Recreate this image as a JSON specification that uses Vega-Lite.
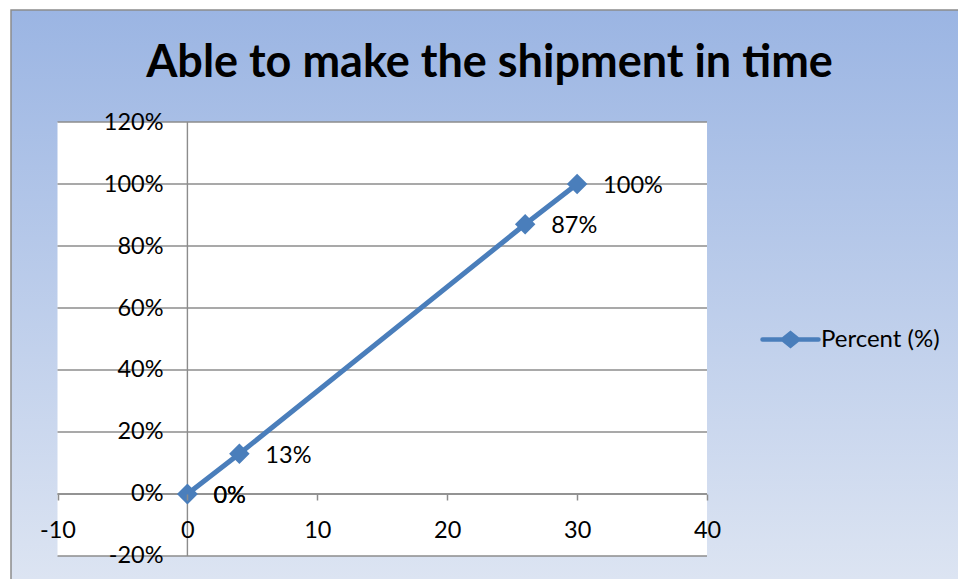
{
  "$schema": "https://vega.github.io/schema/vega-lite/v6.json",
  "width": 947,
  "height": 569,
  "autosize": {"type": "none"},
  "padding": {"left": 11, "top": 10, "right": 0, "bottom": 0},
  "background": "white",
  "title": {
    "text": "Able to make the shipment in time",
    "font": "Lato",
    "fontSize": 45,
    "fontWeight": "bold",
    "color": "black",
    "anchor": "middle",
    "frame": "group",
    "baseline": "alphabetic",
    "offset": -112,
    "dx": 5
  },
  "config": {
    "locale": {"number": {"decimal": ".", "thousands": ",", "grouping": [3], "currency": ["$", ""], "minus": "-"}},
    "font": "Lato",
    "view": {
      "stroke": "#8c8c8c",
      "strokeWidth": 1.5,
      "strokeDash": [947, 1516, 569, 10],
      "fill": {
        "gradient": "linear",
        "x1": 0, "y1": 0, "x2": 0, "y2": 1,
        "stops": [
          {"offset": 0, "color": "#9bb5e3"},
          {"offset": 1, "color": "#dce4f2"}
        ]
      }
    }
  },
  "datasets": {
    "plotArea": [{"x0": -10, "x1": 40, "y0": -0.2, "y1": 1.2}],
    "gridY": [{"v": -0.2}, {"v": 0}, {"v": 0.2}, {"v": 0.4}, {"v": 0.6}, {"v": 0.8}, {"v": 1.0}, {"v": 1.2}],
    "axisLines": [
      {"x0": 0, "x1": 0, "y0": -0.2, "y1": 1.2},
      {"x0": -10, "x1": 40, "y0": 0, "y1": 0}
    ],
    "shipment": [
      {"day": 0, "percent": 0, "series": "Percent (%)"},
      {"day": 0, "percent": 0, "series": "Percent (%)"},
      {"day": 4, "percent": 0.13, "series": "Percent (%)"},
      {"day": 26, "percent": 0.87, "series": "Percent (%)"},
      {"day": 30, "percent": 1.0, "series": "Percent (%)"}
    ]
  },
  "layer": [
    {
      "data": {"name": "plotArea"},
      "mark": {"type": "rect", "fill": "white"},
      "encoding": {
        "x": {
          "field": "x0", "type": "quantitative", "title": null,
          "scale": {"domain": [-13.58, 59.32], "nice": false, "zero": false},
          "axis": {
            "values": [-10, 0, 10, 20, 30, 40],
            "domain": false, "grid": false,
            "ticks": true, "tickSize": 6, "tickColor": "#8c8c8c", "tickWidth": 1.5,
            "labelFontSize": 23.5, "labelColor": "black", "labelFont": "Lato",
            "labelBaseline": "alphabetic", "labelPadding": 37,
            "labelFlush": false, "labelOverlap": false, "labelBound": false,
            "offset": -85, "zindex": 1
          }
        },
        "x2": {"field": "x1"},
        "y": {
          "field": "y0", "type": "quantitative", "title": null,
          "scale": {"domain": [-0.2742, 1.5613], "nice": false, "zero": false},
          "axis": {
            "values": [-0.2, 0, 0.2, 0.4, 0.6, 0.8, 1.0, 1.2],
            "format": ".0%",
            "domain": false, "grid": false, "ticks": false,
            "labelFontSize": 23.5, "labelColor": "black", "labelFont": "Lato",
            "labelBaseline": "middle", "labelPadding": 24,
            "labelFlush": false, "labelOverlap": false, "labelBound": false,
            "offset": -176, "zindex": 1
          }
        },
        "y2": {"field": "y1"}
      }
    },
    {
      "data": {"name": "gridY"},
      "mark": {"type": "rule", "color": "#8c8c8c", "strokeWidth": 1.4},
      "encoding": {
        "y": {"field": "v", "type": "quantitative", "title": null},
        "x": {"datum": -10},
        "x2": {"datum": 40}
      }
    },
    {
      "data": {"name": "axisLines"},
      "mark": {"type": "rule", "color": "#8c8c8c", "strokeWidth": 1.4},
      "encoding": {
        "x": {"field": "x0", "type": "quantitative", "title": null},
        "x2": {"field": "x1"},
        "y": {"field": "y0", "type": "quantitative", "title": null},
        "y2": {"field": "y1"}
      }
    },
    {
      "data": {"name": "shipment"},
      "mark": {"type": "line", "strokeWidth": 5, "strokeCap": "round"},
      "encoding": {
        "x": {"field": "day", "type": "quantitative", "title": null},
        "y": {"field": "percent", "type": "quantitative", "title": null},
        "color": {
          "field": "series", "type": "nominal",
          "scale": {"range": ["#4a7ebb"]},
          "legend": {
            "orient": "none",
            "legendX": 749,
            "legendY": 299,
            "title": null,
            "padding": 0,
            "symbolType": "M-1,0L1,0M-0.27,0L0,-0.22L0.27,0L0,0.22Z",
            "symbolSize": 3136,
            "symbolStrokeWidth": 4.5,
            "labelFontSize": 24,
            "labelFont": "Lato",
            "labelColor": "black",
            "labelOffset": 0,
            "encode": {
              "symbols": {
                "update": {
                  "fill": {"value": "#4a7ebb"},
                  "stroke": {"value": "#4a7ebb"},
                  "strokeCap": {"value": "round"}
                }
              }
            }
          }
        }
      }
    },
    {
      "data": {"name": "shipment"},
      "mark": {"type": "point", "shape": "diamond", "filled": true, "size": 420, "color": "#4a7ebb", "opacity": 1},
      "encoding": {
        "x": {"field": "day", "type": "quantitative", "title": null},
        "y": {"field": "percent", "type": "quantitative", "title": null}
      }
    },
    {
      "data": {"name": "shipment"},
      "mark": {"type": "text", "align": "left", "baseline": "middle", "dx": 26, "dy": 2, "fontSize": 23.5, "font": "Lato", "color": "black"},
      "encoding": {
        "x": {"field": "day", "type": "quantitative", "title": null},
        "y": {"field": "percent", "type": "quantitative", "title": null},
        "text": {"field": "percent", "type": "quantitative", "format": ".0%"}
      }
    }
  ]
}
